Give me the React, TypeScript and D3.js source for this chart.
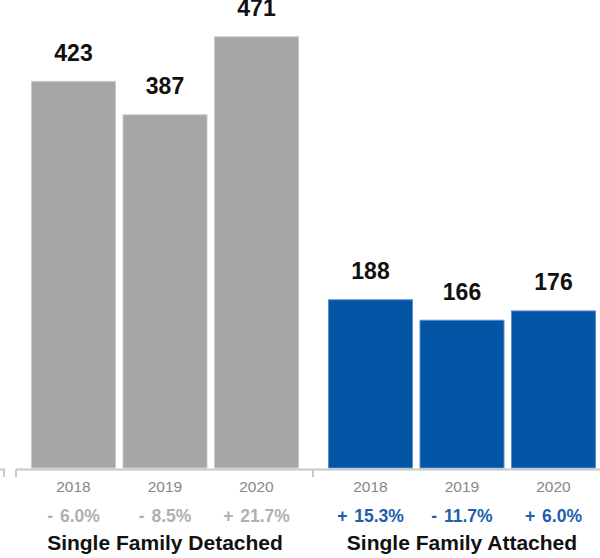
import React from "react";
import * as d3 from "d3";

const groups = ["Single Family Detached", "Single Family Attached"];
const years = ["2018", "2019", "2020"];
const detachedValues = [423, 387, 471];
const attachedValues = [188, 166, 176];
const detachedChanges = ["- 6.0%", "- 8.5%", "+ 21.7%"];
const attachedChanges = ["+ 15.3%", "- 11.7%", "+ 6.0%"];

const W = 600;
const H = 558;
const FONT = "'Liberation Sans', Arial, Helvetica, sans-serif";

export default function App() {
  const baseline = 468;
  const axisY = 469.5;
  const y = d3.scaleLinear().domain([0, 510]).range([474, 0]);
  const xGroup = d3.scaleBand<string>().domain(groups).range([16, 610]).paddingInner(0).paddingOuter(0);
  const xInner = d3.scaleBand<string>().domain(years).range([15, 283]).paddingInner(0.071).paddingOuter(0);

  const groupData = [
    { name: groups[0], values: detachedValues, changes: detachedChanges, fill: "#a6a6a6", stroke: "#c9c9c9", changeColor: "#b0b0b0" },
    { name: groups[1], values: attachedValues, changes: attachedChanges, fill: "#0254a4", stroke: "#5b8fd0", changeColor: "#1b5fae" },
  ];

  const bw = xInner.bandwidth();

  return (
    <svg width={W} height={H} style={{ position: "absolute", left: 0, top: 0 }} fontFamily={FONT}>
      <rect x={0} y={0} width={W} height={H} fill="#ffffff" />
      {groupData.map((g) => {
        const gx = xGroup(g.name)!;
        return (
          <g key={g.name}>
            {years.map((yr, i) => {
              const x0 = gx + xInner(yr)!;
              const top = y(g.values[i]);
              const cx = x0 + bw / 2;
              return (
                <g key={yr}>
                  <rect x={x0 + 0.5} y={top + 0.5} width={bw - 1} height={baseline - top - 0.5} fill={g.fill} stroke={g.stroke} strokeWidth={1} />
                  <text x={cx} y={top - 20} textAnchor="middle" fontSize={23} fontWeight="bold" fill="#111">{g.values[i]}</text>
                  <text x={cx} y={492} textAnchor="middle" fontSize={15.5} fill="#888">{yr}</text>
                  <text x={cx} y={522} textAnchor="middle" fontSize={17.5} fontWeight="bold" fill={g.changeColor} style={{ wordSpacing: "2px" }}>{g.changes[i]}</text>
                </g>
              );
            })}
            <text x={gx + xInner(years[1])! + bw / 2} y={550} textAnchor="middle" fontSize={21} fontWeight="bold" fill="#111">{g.name}</text>
          </g>
        );
      })}
      {/* axis */}
      <g stroke="#c8c8c8" strokeWidth={2} fill="none">
        <line x1={0} x2={5} y1={axisY} y2={axisY} />
        <line x1={4} x2={4} y1={axisY} y2={477} />
        <line x1={16} x2={W} y1={axisY} y2={axisY} />
        {groups.map((gname) => (
          <line key={gname} x1={xGroup(gname)!} x2={xGroup(gname)!} y1={axisY} y2={477} />
        ))}
      </g>
    </svg>
  );
}
